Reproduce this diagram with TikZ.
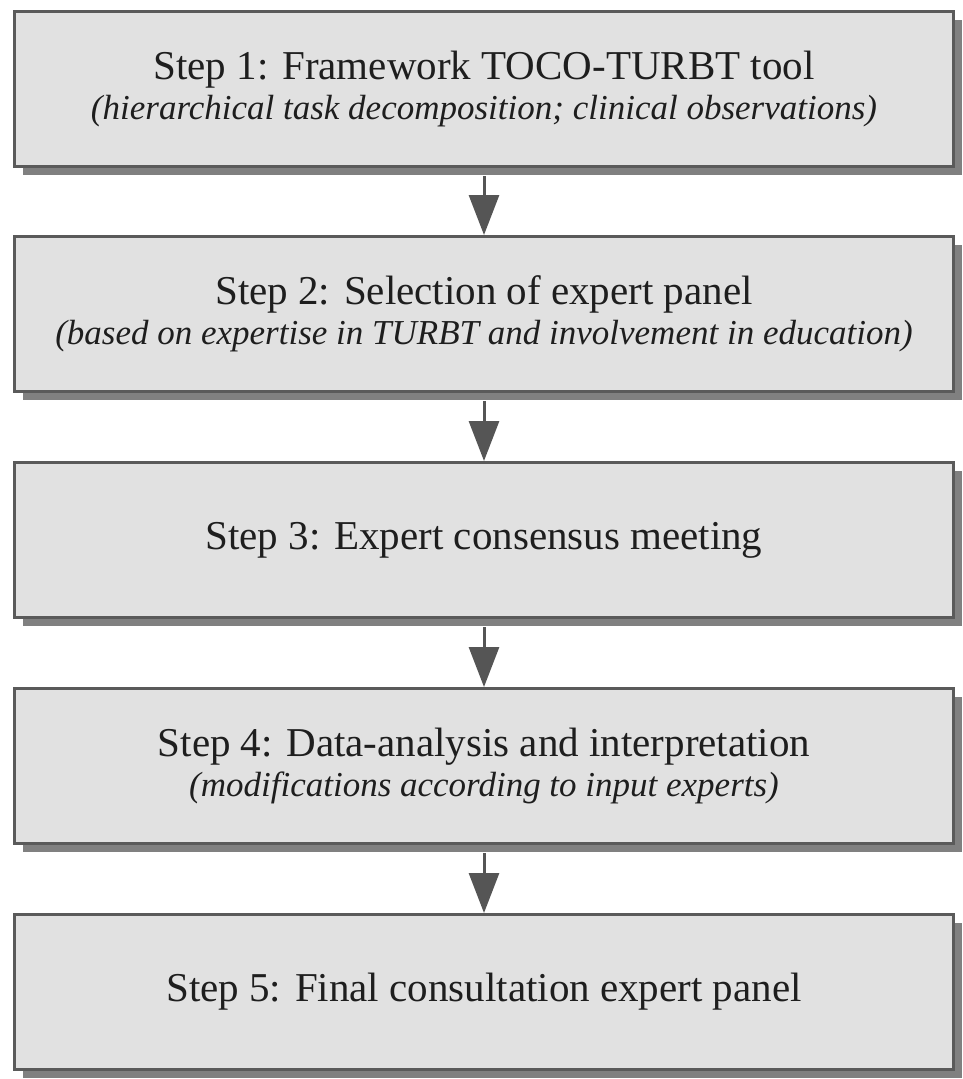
\documentclass[tikz,border=0pt]{standalone}
\usepackage{fontspec}
\setmainfont{Liberation Serif}
\usetikzlibrary{arrows.meta,shadows}
\definecolor{boxfill}{HTML}{E1E1E1}
\definecolor{boxline}{HTML}{5A5A5A}
\definecolor{shadowgray}{HTML}{808080}
\definecolor{arrowgray}{HTML}{555555}
\definecolor{txt}{HTML}{1E1E1E}
\tikzset{
  stepbox/.style={draw=boxline, fill=boxfill, line width=3pt,
    minimum width=939pt, minimum height=155pt, inner sep=0pt,
    align=center, text=txt,
    drop shadow={shadow xshift=8pt, shadow yshift=-8pt, fill=shadowgray, opacity=1}},
  flowarrow/.style={draw=arrowgray, line width=3pt,
    -{Triangle[width=30pt,length=40pt]}},
  mainfont/.style={font=\fontsize{41}{40}\selectfont},
}
\newcommand{\subline}[1]{{\fontsize{35}{40}\selectfont\itshape #1}}
\begin{document}
\begin{tikzpicture}[x=1pt,y=-1pt]
\useasboundingbox (0,0) rectangle (963,1079);
\node[stepbox, mainfont] (b1) at (484,89) {Step 1: Framework TOCO-TURBT tool\\\subline{(hierarchical task decomposition; clinical observations)}};
\node[stepbox, mainfont] (b2) at (484,314) {Step 2: Selection of expert panel\\\subline{(based on expertise in TURBT and involvement in education)}};
\node[stepbox, mainfont] (b3) at (484,540) {Step 3: Expert consensus meeting};
\node[stepbox, mainfont] (b4) at (484,766) {Step 4: Data-analysis and interpretation\\\subline{(modifications according to input experts)}};
\node[stepbox, mainfont] (b5) at (484,992) {Step 5: Final consultation expert panel};
\draw[flowarrow] ([yshift=-8pt]b1.south) -- (b2.north);
\draw[flowarrow] ([yshift=-8pt]b2.south) -- (b3.north);
\draw[flowarrow] ([yshift=-8pt]b3.south) -- (b4.north);
\draw[flowarrow] ([yshift=-8pt]b4.south) -- (b5.north);
\end{tikzpicture}
\end{document}
